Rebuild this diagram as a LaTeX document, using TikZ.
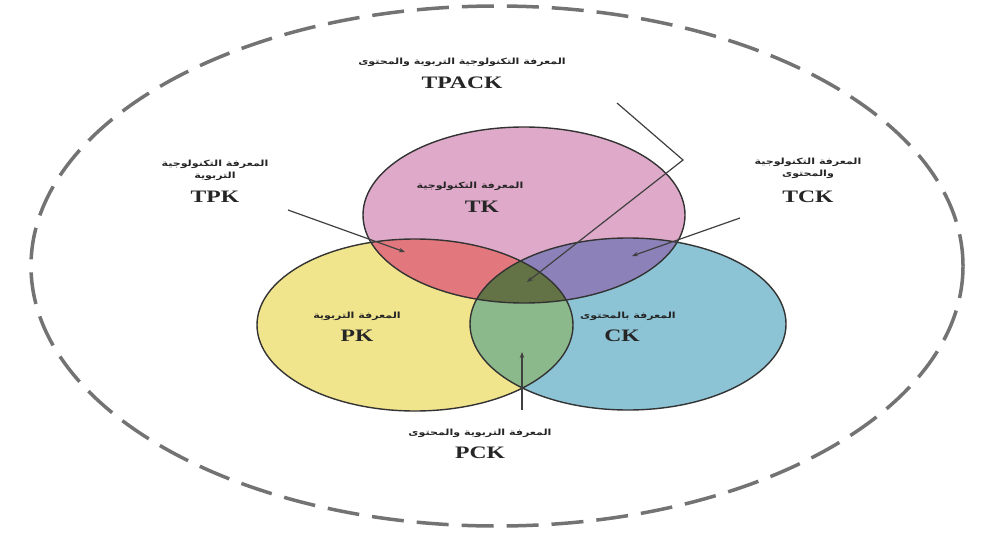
\documentclass[tikz,border=0pt]{standalone}
\usepackage{fontspec}
\setmainfont{Liberation Serif}
\newfontfamily\arabicfont[Script=Arabic]{DejaVu Sans}
\TeXXeTstate=1
\usetikzlibrary{arrows.meta}
\definecolor{tkc}{RGB}{223,170,202}
\definecolor{pkc}{RGB}{240,228,140}
\definecolor{ckc}{RGB}{140,196,214}
\definecolor{tpc}{RGB}{226,120,125}
\definecolor{tcc}{RGB}{140,130,185}
\definecolor{pcc}{RGB}{140,185,140}
\definecolor{allc}{RGB}{100,115,70}
\begin{document}
\begin{tikzpicture}[x=1pt,y=-1pt,
  ar/.style={font=\arabicfont\bfseries\fontsize{8.5}{12}\selectfont, xscale=1.3},
  lbl/.style={text=black!85, align=center, inner sep=0pt},
  lat/.style={font=\bfseries\fontsize{17.5}{20}\selectfont, xscale=1.35},
  ptr/.style={draw=black!75, line width=1.2pt, -{Stealth[length=6pt,width=4.5pt]}},
  ring/.style={draw=black!80, line width=1.4pt}]
\useasboundingbox (0,0) rectangle (987,533);
\fill[white] (0,0) rectangle (987,533);
% outer dashed ellipse
\draw[gray!90!black, line width=3.5pt, dash pattern=on 32pt off 13pt]
  (497,266) ellipse [x radius=466pt, y radius=260pt];
% base fills
\fill[tkc] (524,215) ellipse [x radius=161pt, y radius=88pt];
\fill[pkc] (415,325) ellipse [x radius=158pt, y radius=86pt];
\fill[ckc] (628,324) ellipse [x radius=158pt, y radius=86pt];
% pairwise overlaps
\begin{scope}
  \clip (524,215) ellipse [x radius=161pt, y radius=88pt];
  \fill[tpc] (415,325) ellipse [x radius=158pt, y radius=86pt];
  \fill[tcc] (628,324) ellipse [x radius=158pt, y radius=86pt];
\end{scope}
\begin{scope}
  \clip (415,325) ellipse [x radius=158pt, y radius=86pt];
  \fill[pcc] (628,324) ellipse [x radius=158pt, y radius=86pt];
\end{scope}
\begin{scope}
  \clip (524,215) ellipse [x radius=161pt, y radius=88pt];
  \clip (415,325) ellipse [x radius=158pt, y radius=86pt];
  \fill[allc] (628,324) ellipse [x radius=158pt, y radius=86pt];
\end{scope}
% outlines
\draw[ring] (524,215) ellipse [x radius=161pt, y radius=88pt];
\draw[ring] (415,325) ellipse [x radius=158pt, y radius=86pt];
\draw[ring] (628,324) ellipse [x radius=158pt, y radius=86pt];
% circle labels
\node[lbl, ar] (tkA) at (470,186) {\beginR المعرفة التكنولوجية\endR};
\node[lbl, lat] (tk) at (482,207) {TK};
\node[lbl, ar] (pkA) at (357,316) {\beginR المعرفة التربوية\endR};
\node[lbl, lat] (pk) at (357,336) {PK};
\node[lbl, ar] (ckA) at (628,316) {\beginR المعرفة بالمحتوى\endR};
\node[lbl, lat] (ck) at (622,336) {CK};
% outer labels
\node[lbl, ar] (tpackA) at (462,62) {\beginR المعرفة التكنولوجية التربوية والمحتوى\endR};
\node[lbl, lat] (tpack) at (462,83) {TPACK};
\node[lbl, ar] (tpkA) at (215,170) {\beginR المعرفة التكنولوجية\endR\\\beginR التربوية\endR};
\node[lbl, lat] (tpk) at (215,197) {TPK};
\node[lbl, ar] (tckA) at (808,168) {\beginR المعرفة التكنولوجية\endR\\\beginR والمحتوى\endR};
\node[lbl, lat] (tck) at (808,197) {TCK};
\node[lbl, ar] (pckA) at (480,433) {\beginR المعرفة التربوية والمحتوى\endR};
\node[lbl, lat] (pck) at (480,453) {PCK};
% pointer coordinates
\coordinate (tpackS) at (617,103);
\coordinate (tpackK) at (683,160);
\coordinate (tpackE) at (527,282);
\coordinate (tpkS) at (288,210);
\coordinate (tpkE) at (405,252);
\coordinate (tckS) at (740,218);
\coordinate (tckE) at (632,256);
\coordinate (pckS) at (522,410);
\coordinate (pckE) at (522,352);
% pointers
\draw[ptr] (tpackS) -- (tpackK) -- (tpackE);
\draw[ptr] (tpkS) -- (tpkE);
\draw[ptr] (tckS) -- (tckE);
\draw[ptr] (pckS) -- (pckE);
\end{tikzpicture}
\end{document}
